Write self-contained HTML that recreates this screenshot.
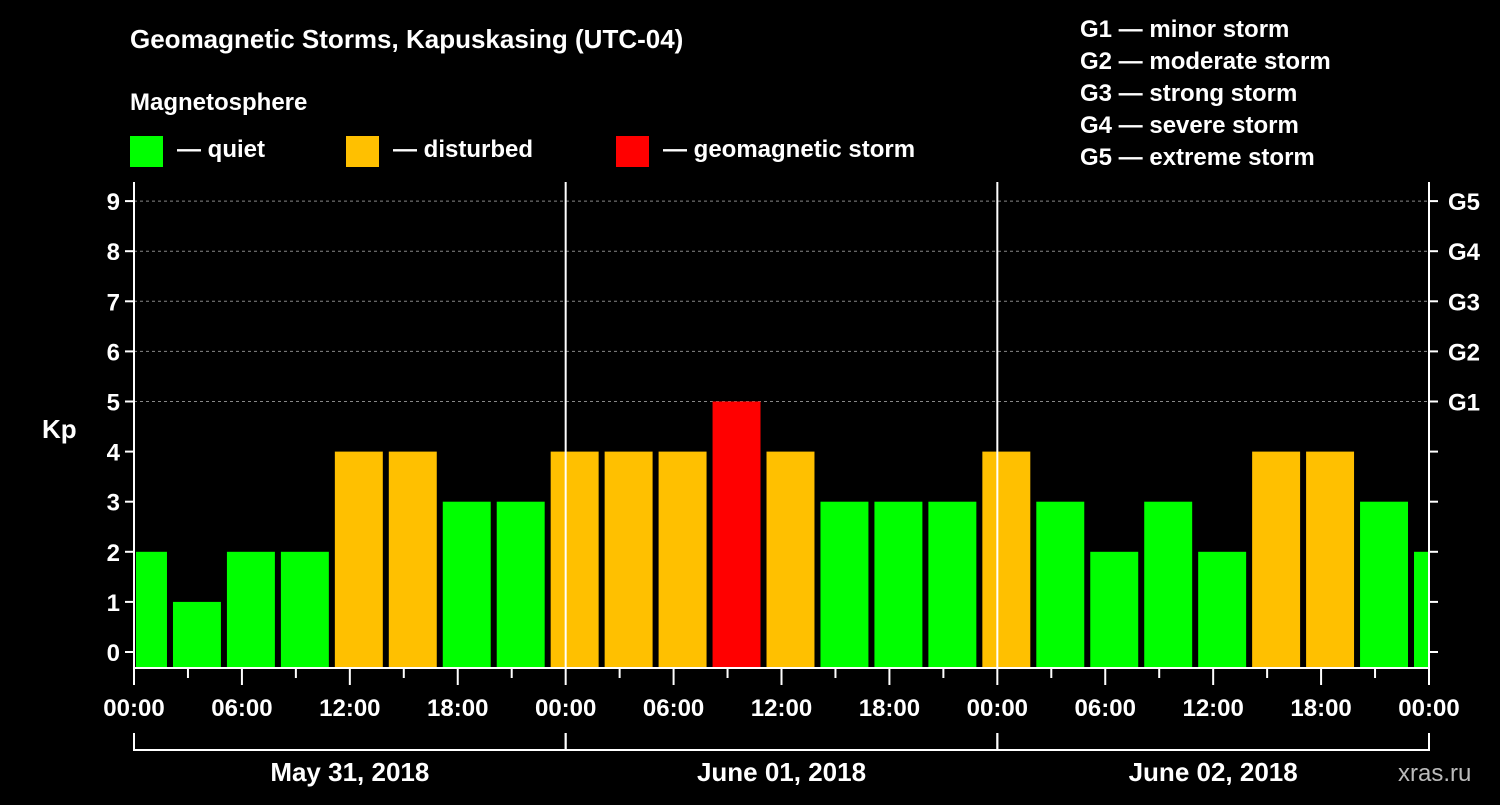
<!DOCTYPE html>
<html><head><meta charset="utf-8"><style>
body{margin:0;background:#000;width:1500px;height:800px;overflow:hidden}
svg text{font-family:"Liberation Sans",Arial,sans-serif;font-weight:bold;fill:#fff}
</style></head><body>
<svg id="c" width="1500" height="800" xmlns="http://www.w3.org/2000/svg">
<text x="130" y="48" font-size="26">Geomagnetic Storms, Kapuskasing (UTC-04)</text>
<text x="130" y="110" font-size="24">Magnetosphere</text>
<rect x="130" y="136" width="33" height="31" fill="#00ff00"/>
<text x="177" y="157" font-size="24">— quiet</text>
<rect x="346" y="136" width="33" height="31" fill="#ffc000"/>
<text x="393" y="157" font-size="24">— disturbed</text>
<rect x="616" y="136" width="33" height="31" fill="#ff0000"/>
<text x="663" y="157" font-size="24">— geomagnetic storm</text>
<g font-size="24">
<text x="1080" y="37">G1 — minor storm</text>
<text x="1080" y="69">G2 — moderate storm</text>
<text x="1080" y="101">G3 — strong storm</text>
<text x="1080" y="133">G4 — severe storm</text>
<text x="1080" y="165">G5 — extreme storm</text>
</g>
<text x="42" y="438" font-size="26">Kp</text>
<text x="1398" y="781" font-size="24" fill="#aaa" style="fill:#bbb;font-weight:normal">xras.ru</text>
<g id="plot"></g>
</svg>
<script>
const kpValues=[2,1,2,2,4,4,3,3,4,4,4,5,4,3,3,3,4,3,2,3,2,4,4,3,2];
const slotStartHour=-1;
const yTicks=[0,1,2,3,4,5,6,7,8,9];
const gLabels=["G1","G2","G3","G4","G5"];
const gLevels=[5,6,7,8,9];
const xTickLabels=["00:00","06:00","12:00","18:00"];
const dayLabels=["May 31, 2018","June 01, 2018","June 02, 2018"];
const L=134,R=1429,T=182,B=668;
const X=h=>L+h*(R-L)/72;
const Y=v=>652-v*50.1;
const NS="http://www.w3.org/2000/svg",g=document.getElementById('plot');
function mk(t,a,txt){const e=document.createElementNS(NS,t);for(const k in a)e.setAttribute(k,a[k]);if(txt!==undefined)e.textContent=txt;g.appendChild(e);return e;}
yTicks.forEach(v=>{
 if(v>=5){const l=mk('line',{x1:L,x2:R,y1:Y(v),y2:Y(v),stroke:'#888','stroke-dasharray':'3,3','stroke-width':1});
 
 }
 const t=mk('line',{x1:L-9,x2:L,y1:Y(v),y2:Y(v),stroke:'#fff','stroke-width':2});
 
 
 const t2=mk('line',{x1:R,x2:R+9,y1:Y(v),y2:Y(v),stroke:'#fff','stroke-width':2});
 
 
 const lb=mk('text',{x:L-14,y:Y(v)+9,'font-size':24,'text-anchor':'end'},v);
 
 
});
gLabels.forEach((s,i)=>{const t=mk('text',{x:1448,y:Y(gLevels[i])+9,'font-size':24},s);
 
 });
kpValues.forEach((v,i)=>{
 const h0=slotStartHour+i*3;
 let x0=X(h0)+3,x1=X(h0+3)-3;
 x0=Math.max(x0,L+2);x1=Math.min(x1,R-1);
 const c=v>=5?'#ff0000':v>=4?'#ffc000':'#00ff00';
 const r=mk('rect',{x:x0,y:Y(v),width:x1-x0,height:B-Y(v),fill:c});
 
 
});
[1,2].forEach(d=>{const l=mk('line',{x1:X(d*24),x2:X(d*24),y1:T,y2:B,stroke:'#fff','stroke-width':2});
 
 });
const f=mk('path',{d:`M${L} ${T}V${B}H${R}V${T}`,fill:'none',stroke:'#fff','stroke-width':2});


for(let h=0;h<=72;h+=3){
 const major=h%6===0;
 const t=mk('line',{x1:X(h),x2:X(h),y1:B,y2:B+(major?17:10),stroke:'#fff','stroke-width':2});
 
 
 if(major){const lb=mk('text',{x:X(h),y:716,'font-size':24,'text-anchor':'middle'},xTickLabels[(h/6)%4]);
 
 }
}
dayLabels.forEach((s,d)=>{
 const p=mk('path',{d:`M${X(d*24)} 733V750H${X(d*24+24)}V733`,fill:'none',stroke:'#fff','stroke-width':2});
 
 
 const t=mk('text',{x:X(d*24+12),y:781,'font-size':26,'text-anchor':'middle'},s);
 
 
});
</script>
</body></html>
